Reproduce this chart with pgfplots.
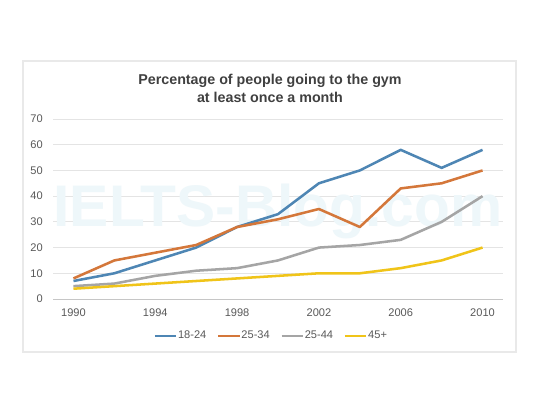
\documentclass[border=0pt]{standalone}
\usepackage{pgfplots}
\pgfplotsset{compat=1.18}
\usepackage{fontspec}
\setmainfont{Liberation Sans}
\definecolor{cA}{HTML}{4E86B4}
\definecolor{cB}{HTML}{D4773A}
\definecolor{cC}{HTML}{A5A5A5}
\definecolor{cD}{HTML}{F0C419}
\definecolor{txt}{HTML}{595959}
\definecolor{ttl}{HTML}{404040}
\definecolor{grd}{HTML}{E4E4E4}
\definecolor{wm}{HTML}{EEF7FA}
\begin{document}
\begin{tikzpicture}
\useasboundingbox[fill=white] (0,0) rectangle (405pt,303.75pt);
\draw[draw=grd!80!white, line width=0.8pt] ({23*0.75pt},{(405-61)*0.75pt}) rectangle ({516*0.75pt},{(405-352)*0.75pt});
\node[font=\bfseries\fontsize{10.7pt}{13.5pt}\selectfont, text=ttl, align=center] at ({270*0.75pt},{(405-88)*0.75pt}) {Percentage of people going to the gym\\at least once a month};
\begin{axis}[
  scale only axis,
  width=337.5pt, height=135pt,
  at={(39.75pt,79.5pt)}, anchor=south west,
  xmin=1989, xmax=2011, ymin=0, ymax=70,
  xtick={1990,1994,...,2010}, ytick={0,10,...,70},
  /pgf/number format/1000 sep={},
  /pgf/number format/assume math mode=true,
  ymajorgrids, grid style={grd, line width=0.6pt},
  axis x line=bottom, axis y line=left,
  x axis line style={-, draw=grd!70!gray, line width=0.6pt},
  y axis line style={draw=none},
  major tick length=0pt,
  tick label style={font=\fontsize{8.3pt}{10pt}\selectfont, text=txt},
  xticklabel style={anchor=center, inner sep=0pt, yshift=-10.5pt},
  yticklabel style={anchor=east, inner sep=0pt, xshift=-7.5pt},
  legend style={at={(0.484,-0.2056)}, anchor=center, legend columns=4, draw=none, fill=none, font=\fontsize{8.3pt}{10pt}\selectfont, text=txt, inner sep=0pt, nodes={inner sep=0.6pt}, /tikz/every even column/.append style={column sep=7.5pt}},
  legend image code/.code={\draw[#1, line width=1.6pt] (0pt,0pt) -- (16pt,0pt);},
  every axis plot/.append style={line width=1.9pt, no markers, line join=round},
  clip=false,
]
\node[font=\bfseries\fontsize{44pt}{44pt}\selectfont, text=wm] at (axis cs:2000,34) {IELTS-Blog.com};
\addplot[cA] coordinates {(1990,7)(1992,10)(1994,15)(1996,20)(1998,28)(2000,33)(2002,45)(2004,50)(2006,58)(2008,51)(2010,58)};
\addplot[cB] coordinates {(1990,8)(1992,15)(1994,18)(1996,21)(1998,28)(2000,31)(2002,35)(2004,28)(2006,43)(2008,45)(2010,50)};
\addplot[cC] coordinates {(1990,5)(1992,6)(1994,9)(1996,11)(1998,12)(2000,15)(2002,20)(2004,21)(2006,23)(2008,30)(2010,40)};
\addplot[cD] coordinates {(1990,4)(1992,5)(1994,6)(1996,7)(1998,8)(2000,9)(2002,10)(2004,10)(2006,12)(2008,15)(2010,20)};
\legend{18-24,25-34,25-44,45+}
\end{axis}
\end{tikzpicture}
\end{document}
